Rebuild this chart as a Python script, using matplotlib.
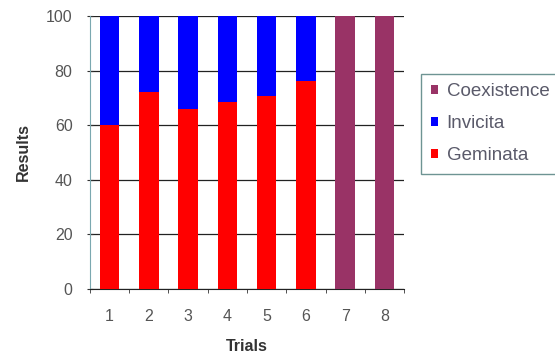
import matplotlib
matplotlib.use("Agg")
import matplotlib.pyplot as plt
import numpy as np

trials = ["1", "2", "3", "4", "5", "6", "7", "8"]
geminata = [60, 72, 66, 68.5, 70.5, 76, 0, 0]
invicita = [40, 28, 34, 31.5, 29.5, 24, 0, 0]
coexistence = [0, 0, 0, 0, 0, 0, 100, 100]
y_ticks = [0, 20, 40, 60, 80, 100]

plt.rcParams['font.family'] = ['Liberation Sans', 'DejaVu Sans']

fig = plt.figure(figsize=(5.55, 3.63), dpi=100)
ax = fig.add_axes([0.162, 0.204, 0.566, 0.752])

x = np.arange(1, len(trials) + 1)
w = 0.5
ax.bar(x, geminata, w, color='#ff0000', label='Geminata', zorder=3)
ax.bar(x, invicita, w, bottom=geminata, color='#0000ff', label='Invicita', zorder=3)
ax.bar(x, coexistence, w, color='#993366', label='Coexistence', zorder=3)

ax.set_xlim(0.5, len(trials) + 0.5)
ax.set_ylim(0, 100)
ax.set_yticks(y_ticks)
ax.set_xticks(x)
ax.set_xticklabels(trials)
ax.set_xticks(np.arange(0.5, len(trials) + 1), minor=True)
ax.tick_params(axis='x', which='major', length=0, pad=14.5, labelsize=11.5, labelcolor='#555555')
ax.tick_params(axis='x', which='minor', length=3, direction='out', color='#333333')
ax.tick_params(axis='y', length=5, direction='inout', pad=10, labelsize=11.5, labelcolor='#555555', color='#333333')

ax.yaxis.grid(True, color='#222222', linewidth=0.9, zorder=1)
ax.set_axisbelow(True)
for s in ['top', 'right']:
    ax.spines[s].set_visible(False)
ax.spines['left'].set_color('#7aa8b0')
ax.spines['bottom'].set_color('#222222')

ax.set_xlabel('Trials', fontsize=11.5, fontweight='bold', color='#333333', labelpad=11)
ax.set_ylabel('Results', fontsize=11.5, fontweight='bold', color='#333333', labelpad=11)

h, l = ax.get_legend_handles_labels()
order = [2, 1, 0]
leg = fig.legend([h[i] for i in order], [l[i] for i in order],
                 loc='upper left', bbox_to_anchor=(0.759, 0.796),
                 bbox_transform=fig.transFigure, fontsize=13.5,
                 frameon=True, fancybox=False, handlelength=0.4, handleheight=0.4,
                 handletextpad=0.45, labelspacing=0.8, borderpad=0.5,
                 borderaxespad=0)
leg.get_frame().set_edgecolor('#4a7a78')
leg.get_frame().set_linewidth(1.0)
for t in leg.get_texts():
    t.set_color('#5a5a6a')

fig.savefig('out.png', dpi=100)
